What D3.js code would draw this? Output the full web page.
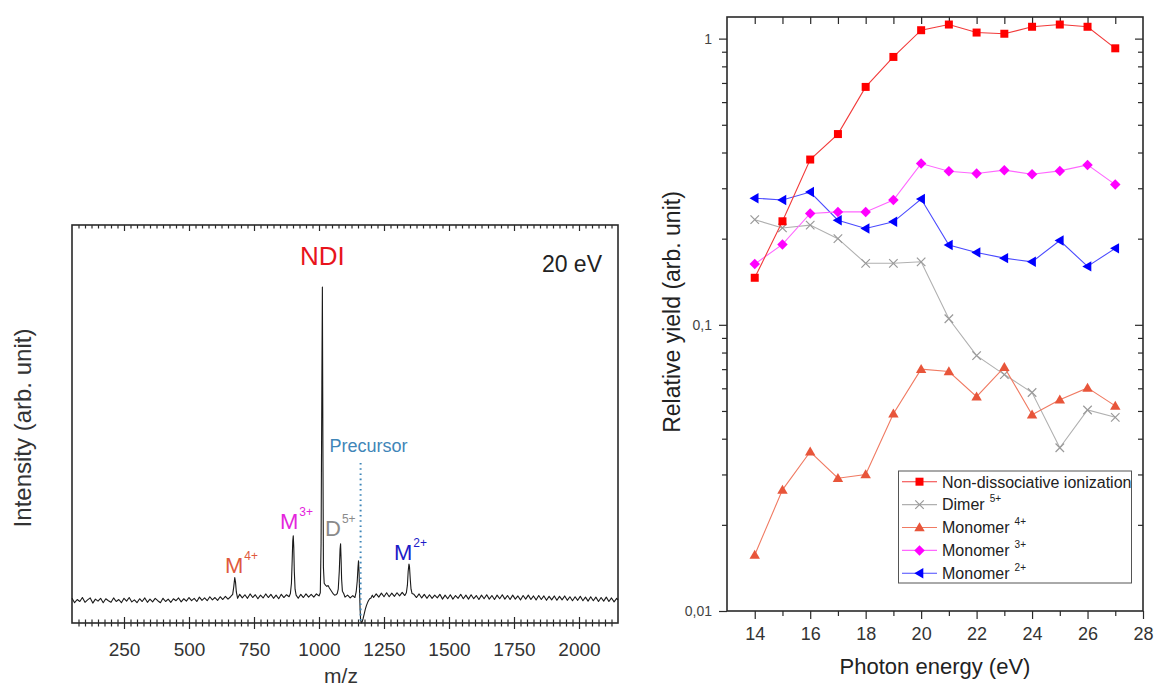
<!DOCTYPE html>
<html><head><meta charset="utf-8">
<script src="https://cdn.jsdelivr.net/npm/d3@7"></script>
<style>
body{margin:0;background:#fff;}
svg{display:block;font-family:"Liberation Sans",Arial,sans-serif;}
</style></head>
<body><svg id="c" width="1157" height="689"></svg>
<script>
// ---------------- DATA ----------------
// Right panel: relative yields vs photon energy
const energies = [14,15,16,17,18,19,20,21,22,23,24,25,26,27];
const nonDissociative = [0.146,0.230,0.378,0.464,0.678,0.863,1.07,1.12,1.05,1.04,1.10,1.12,1.10,0.925];
const dimer5 = [0.233,0.218,0.223,0.200,0.164,0.164,0.166,0.105,0.078,0.067,0.058,0.0372,0.0504,0.0475];
const monomer4 = [0.0157,0.0265,0.0360,0.0291,0.0300,0.0489,0.0700,0.0687,0.0561,0.0711,0.0485,0.0547,0.0602,0.0521];
const monomer3 = [0.163,0.191,0.245,0.248,0.248,0.273,0.366,0.344,0.338,0.347,0.336,0.345,0.362,0.309];
const monomer2 = [0.277,0.273,0.291,0.232,0.217,0.229,0.275,0.190,0.179,0.171,0.166,0.197,0.160,0.185];
const seriesNames = ["Non-dissociative ionization","Dimer","Monomer","Monomer","Monomer"];
const seriesCharges = ["","5+","4+","3+","2+"];
const energyTickLabels = [14,16,18,20,22,24,26,28];
const yieldTickValues = [1,0.1,0.01];
const yieldTickLabels = ["1","0,1","0,01"];

// Left panel: mass spectrum at 20 eV  [m/z, intensity (arb.)]
const mzTickLabels = [250,500,750,1000,1250,1500,1750,2000];
const spectrum = [
[50,6.2],[60,5.1],[70,5.9],[80,5.4],[90,6.4],[100,5.2],[110,5.8],[120,6.3],[130,5.0],[140,6.0],
[150,5.5],[160,6.2],[170,5.1],[180,6.1],[190,5.6],[200,5.2],[210,6.3],[220,5.4],[230,5.9],[240,5.1],
[250,6.2],[260,5.5],[270,6.4],[280,5.3],[290,5.8],[300,5.1],[310,6.1],[320,5.4],[330,6.3],[340,5.2],
[350,6.0],[360,5.3],[370,6.2],[380,5.6],[390,5.1],[400,6.2],[410,5.4],[420,6.0],[430,5.2],[440,6.1],
[450,5.6],[460,6.3],[470,5.3],[480,6.1],[490,5.5],[500,6.4],[510,5.6],[520,6.2],[530,5.4],[540,6.5],
[550,5.7],[560,6.3],[570,5.6],[580,6.6],[590,5.8],[600,6.4],[610,5.7],[620,6.6],[630,5.9],[640,6.7],
[650,6.0],[660,6.6],[668,7.2],[672,9.0],[676,11.4],[679,10.2],[682,7.8],[687,6.2],[695,7.2],[705,6.3],
[715,7.1],[725,6.2],[735,7.3],[745,6.4],[755,7.1],[765,6.1],[775,7.0],[785,6.3],[795,7.3],[805,6.4],
[815,7.2],[825,6.2],[835,7.0],[845,6.1],[855,7.2],[865,6.4],[875,7.1],[885,6.6],[890,7.4],[894,10.0],
[897,16.0],[899,20.5],[901,21.9],[903,19.0],[905,13.0],[908,8.5],[912,7.0],[920,6.2],[930,7.2],[940,6.4],
[950,7.3],[960,6.5],[970,7.2],[980,6.5],[990,7.3],[1000,6.8],[1005,7.6],[1008,20],[1011,60],[1013,84.4],
[1015,45],[1017,14],[1020,10],[1025,9.5],[1030,9.2],[1035,9.4],[1040,8.8],[1045,8.3],[1050,7.8],[1055,7.3],
[1060,7.0],[1065,7.1],[1070,7.4],[1074,8.5],[1078,13],[1081,18.5],[1083,19.9],[1085,16],[1087,11],[1090,8.0],
[1095,7.4],[1100,6.5],[1110,7.0],[1120,6.3],[1130,6.9],[1138,6.4],[1143,7.8],[1147,10.5],[1150,14],[1152,15.6],
[1154,13],[1156,8],[1158,3.5],[1160,0.8],[1163,0],[1166,0.3],[1170,1.2],[1174,2.3],[1178,3.4],[1182,4.3],
[1186,5.0],[1190,5.6],[1195,6.1],[1200,6.3],[1205,7.0],[1210,6.4],[1220,7.3],[1230,6.5],[1240,7.5],[1250,6.6],
[1260,7.6],[1270,6.6],[1280,7.5],[1290,6.7],[1300,7.6],[1310,6.8],[1320,7.7],[1330,6.9],[1336,7.6],[1340,9.5],
[1343,13],[1346,14.8],[1348,14.2],[1351,11],[1354,8.5],[1358,7.4],[1365,7.2],[1375,6.4],[1385,7.3],[1395,6.3],
[1405,7.2],[1415,6.2],[1425,7.1],[1435,6.2],[1445,7.0],[1455,6.3],[1465,7.2],[1475,6.0],[1485,7.0],[1495,6.1],
[1505,7.1],[1515,6.0],[1525,6.9],[1535,6.2],[1545,7.2],[1555,6.1],[1565,7.0],[1575,6.0],[1585,7.1],[1595,6.1],
[1605,6.9],[1615,5.9],[1625,7.0],[1635,6.1],[1645,7.1],[1655,6.0],[1665,6.9],[1675,5.9],[1685,7.0],[1695,6.1],
[1705,7.1],[1715,6.0],[1725,6.9],[1735,5.9],[1745,7.0],[1755,6.0],[1765,6.8],[1775,5.8],[1785,6.9],[1795,6.0],
[1805,7.0],[1815,5.9],[1825,6.8],[1835,5.8],[1845,6.9],[1855,5.9],[1865,6.8],[1875,5.7],[1885,6.7],[1895,5.8],
[1905,6.8],[1915,5.7],[1925,6.7],[1935,5.8],[1945,6.8],[1955,5.7],[1965,6.6],[1975,5.6],[1985,6.6],[1995,5.7],
[2005,6.7],[2015,5.6],[2025,6.5],[2035,5.5],[2045,6.6],[2055,5.6],[2065,6.5],[2075,5.4],[2085,6.4],[2095,5.5],
[2105,6.5],[2115,5.4],[2125,6.3],[2135,5.3],[2145,6.2],[2150,5.8]
];
const precursorMz = 1160;

// ---------------- DRAW ----------------
const svg = d3.select("#c");
const axisColor = "#2a2a2a";

// ===== Left panel =====
const L = {x0:72, x1:618, y0:225, y1:623};
const xMz = d3.scaleLinear().domain([50,2150]).range([L.x0,L.x1]);
const yInt = d3.scaleLinear().domain([0,100]).range([L.y1,L.y0]);
const mzMinor = d3.range(75,2150,25).filter(v=>v%250!==0);

function styleAxis(g){ g.select(".domain").remove(); g.selectAll("line").attr("stroke",axisColor).attr("stroke-width",1.2); }

// bottom outward
svg.append("g").attr("transform",`translate(0,${L.y1})`)
  .call(d3.axisBottom(xMz).tickValues(mzTickLabels).tickSize(6).tickPadding(14).tickFormat(d3.format("d")))
  .call(styleAxis)
  .call(g=>g.selectAll("text").attr("font-size",19).attr("fill","#333").attr("font-family","Liberation Sans, Arial, sans-serif"));
svg.append("g").attr("transform",`translate(0,${L.y1})`)
  .call(d3.axisBottom(xMz).tickValues(mzMinor).tickSize(3.5).tickFormat(""))
  .call(styleAxis);
// bottom inward
svg.append("g").attr("transform",`translate(0,${L.y1})`)
  .call(d3.axisTop(xMz).tickValues(mzTickLabels).tickSize(6).tickFormat(""))
  .call(styleAxis);
svg.append("g").attr("transform",`translate(0,${L.y1})`)
  .call(d3.axisTop(xMz).tickValues(mzMinor).tickSize(3.5).tickFormat(""))
  .call(styleAxis);
// top inward
svg.append("g").attr("transform",`translate(0,${L.y0})`)
  .call(d3.axisBottom(xMz).tickValues(mzTickLabels).tickSize(6).tickFormat(""))
  .call(styleAxis);
svg.append("g").attr("transform",`translate(0,${L.y0})`)
  .call(d3.axisBottom(xMz).tickValues(mzMinor).tickSize(3.5).tickFormat(""))
  .call(styleAxis);

svg.append("rect").attr("x",L.x0).attr("y",L.y0).attr("width",L.x1-L.x0).attr("height",L.y1-L.y0)
  .attr("fill","none").attr("stroke",axisColor).attr("stroke-width",1.6);

// spectrum trace
svg.append("path").datum(spectrum)
  .attr("d", d3.line().x(d=>xMz(d[0])).y(d=>yInt(d[1])))
  .attr("fill","none").attr("stroke","#1a1a1a").attr("stroke-width",1.1).attr("stroke-linejoin","round");

// precursor dotted line
svg.append("line").attr("x1",xMz(precursorMz)).attr("x2",xMz(precursorMz))
  .attr("y1",463).attr("y2",L.y1)
  .attr("stroke","#3f86b8").attr("stroke-width",2).attr("stroke-dasharray","1.6,3.6");
svg.append("text").attr("x",xMz(precursorMz)+8).attr("y",452).attr("text-anchor","middle")
  .attr("font-size",18).attr("fill","#3f86b8").text("Precursor");

// peak labels
function peakLabel(x, base, main, sup, color, fs){
  const t = svg.append("text").attr("x",x).attr("y",base).attr("font-size",fs).attr("fill",color);
  t.append("tspan").text(main);
  t.append("tspan").attr("font-size",12).attr("dy",-13).attr("dx",1).text(sup);
}
peakLabel(225, 573, "M", "4+", "#e0593d", 22);
peakLabel(280, 528.5, "M", "3+", "#e424dc", 22);
peakLabel(325, 536, "D", "5+", "#8a8a8a", 22);
peakLabel(394, 560, "M", "2+", "#1c1cc8", 22);

svg.append("text").attr("x",xMz(1013)).attr("y",265).attr("text-anchor","middle")
  .attr("font-size",26).attr("fill","#e8141c").text("NDI");
svg.append("text").attr("x",602).attr("y",272).attr("text-anchor","end")
  .attr("font-size",23).attr("fill","#222").text("20 eV");

svg.append("text").attr("x",341).attr("y",683).attr("text-anchor","middle")
  .attr("font-size",21).attr("fill","#333").text("m/z");
svg.append("text").attr("transform","translate(31,428) rotate(-90)").attr("text-anchor","middle")
  .attr("font-size",24).attr("fill","#333").text("Intensity (arb. unit)");

// ===== Right panel =====
const R = {x0:727, x1:1143, y0:17, y1:611};
const xE = d3.scaleLinear().domain([13,28]).range([R.x0,R.x1]);
const yY = d3.scaleLog().domain([0.01,1.19]).range([R.y1,R.y0]);
const eMinor = [15,17,19,21,23,25,27];
const eAll = d3.range(14,28);
const yMinor = [0.02,0.03,0.04,0.05,0.06,0.07,0.08,0.09,0.2,0.3,0.4,0.5,0.6,0.7,0.8,0.9];

svg.append("g").attr("transform",`translate(0,${R.y1})`)
  .call(d3.axisBottom(xE).tickValues(energyTickLabels).tickSize(8).tickPadding(8).tickFormat(d3.format("d")))
  .call(styleAxis)
  .call(g=>g.selectAll("text").attr("font-size",18).attr("fill","#333").attr("font-family","Liberation Sans, Arial, sans-serif"));
svg.append("g").attr("transform",`translate(0,${R.y1})`)
  .call(d3.axisBottom(xE).tickValues(eMinor).tickSize(5).tickFormat("")).call(styleAxis);
svg.append("g").attr("transform",`translate(0,${R.y0})`)
  .call(d3.axisBottom(xE).tickValues(eAll).tickSize(7).tickFormat("")).call(styleAxis);

svg.append("g").attr("transform",`translate(${R.x0},0)`)
  .call(d3.axisLeft(yY).tickValues(yieldTickValues).tickSize(8).tickPadding(7)
        .tickFormat((d,i)=>yieldTickLabels[i]))
  .call(styleAxis)
  .call(g=>g.selectAll("text").attr("font-size",14).attr("fill","#444").attr("font-family","Liberation Sans, Arial, sans-serif"));
svg.append("g").attr("transform",`translate(${R.x0},0)`)
  .call(d3.axisLeft(yY).tickValues(yMinor).tickSize(5).tickFormat("")).call(styleAxis);
svg.append("g").attr("transform",`translate(${R.x1},0)`)
  .call(d3.axisLeft(yY).tickValues(yieldTickValues.slice(0,2)).tickSize(8).tickFormat("")).call(styleAxis);
svg.append("g").attr("transform",`translate(${R.x1},0)`)
  .call(d3.axisLeft(yY).tickValues(yMinor).tickSize(5).tickFormat("")).call(styleAxis);

svg.append("rect").attr("x",R.x0).attr("y",R.y0).attr("width",R.x1-R.x0).attr("height",R.y1-R.y0)
  .attr("fill","none").attr("stroke",axisColor).attr("stroke-width",1.6);

// marker types (d3 custom symbol types)
const symSquare = {draw(c,s){const r=Math.sqrt(s)/2;c.moveTo(-r,-r);c.lineTo(r,-r);c.lineTo(r,r);c.lineTo(-r,r);c.closePath();}};
const symX = {draw(c,s){const r=Math.sqrt(s)/2;c.moveTo(-r,-r);c.lineTo(r,r);c.moveTo(-r,r);c.lineTo(r,-r);}};
const symTriUp = {draw(c,s){const r=Math.sqrt(s)/2;c.moveTo(0,-r*1.1);c.lineTo(r*1.1,r*0.8);c.lineTo(-r*1.1,r*0.8);c.closePath();}};
const symDiamond = {draw(c,s){const r=Math.sqrt(s)/2;c.moveTo(0,-r);c.lineTo(r,0);c.lineTo(0,r);c.lineTo(-r,0);c.closePath();}};
const symTriLeft = {draw(c,s){const r=Math.sqrt(s)/2;c.moveTo(-r*1.1,0);c.lineTo(r*0.8,-r*1.1);c.lineTo(r*0.8,r*1.1);c.closePath();}};

const series = [
  {vals:nonDissociative, line:"#f23a3a", fill:"#ff0000", sym:symSquare, size:64, stroke:false},
  {vals:dimer5, line:"#b0b0b0", fill:"#9a9a9a", sym:symX, size:72, stroke:true},
  {vals:monomer4, line:"#f07a62", fill:"#e8553a", sym:symTriUp, size:90, stroke:false},
  {vals:monomer3, line:"#ff66ff", fill:"#ff00ff", sym:symDiamond, size:110, stroke:false},
  {vals:monomer2, line:"#4a4aff", fill:"#0000ff", sym:symTriLeft, size:90, stroke:false}
];
// draw order: gray, orange, blue, magenta, red (red on top)
const order = [1,2,4,3,0];
order.forEach(si=>{
  const s = series[si];
  const pts = energies.map((e,i)=>[e,s.vals[i]]);
  svg.append("path").datum(pts)
    .attr("d", d3.line().x(d=>xE(d[0])).y(d=>yY(d[1])))
    .attr("fill","none").attr("stroke",s.line).attr("stroke-width",1.1);
  svg.append("g").selectAll("path").data(pts).join("path")
    .attr("transform",d=>`translate(${xE(d[0])},${yY(d[1])})`)
    .attr("d", d3.symbol().type(s.sym).size(s.size))
    .attr("fill", s.stroke?"none":s.fill)
    .attr("stroke", s.stroke?s.fill:"none").attr("stroke-width",1.2);
});

// legend
const lg = svg.append("g");
lg.append("rect").attr("x",898.5).attr("y",471).attr("width",233).attr("height",112)
  .attr("fill","#fff").attr("stroke","#555").attr("stroke-width",1);
series.forEach((s,i)=>{
  const cy = 481.7 + i*22.9;
  lg.append("line").attr("x1",902).attr("x2",937).attr("y1",cy).attr("y2",cy)
    .attr("stroke",s.line).attr("stroke-width",1.1);
  lg.append("path").attr("transform",`translate(919.5,${cy})`)
    .attr("d", d3.symbol().type(s.sym).size(s.size))
    .attr("fill", s.stroke?"none":s.fill)
    .attr("stroke", s.stroke?s.fill:"none").attr("stroke-width",1.2);
  const t = lg.append("text").attr("x",942).attr("y",cy+5.8).attr("font-size",16).attr("fill","#222");
  t.append("tspan").text(seriesNames[i]);
  if (seriesCharges[i]) t.append("tspan").attr("font-size",10).attr("dx",5).attr("dy",-8).text(seriesCharges[i]);
});

svg.append("text").attr("x",935).attr("y",674).attr("text-anchor","middle")
  .attr("font-size",22).attr("fill","#222").text("Photon energy (eV)");
svg.append("text").attr("transform","translate(680,312) rotate(-90)").attr("text-anchor","middle")
  .attr("font-size",23).attr("fill","#222").text("Relative yield (arb. unit)");
</script></body></html>
